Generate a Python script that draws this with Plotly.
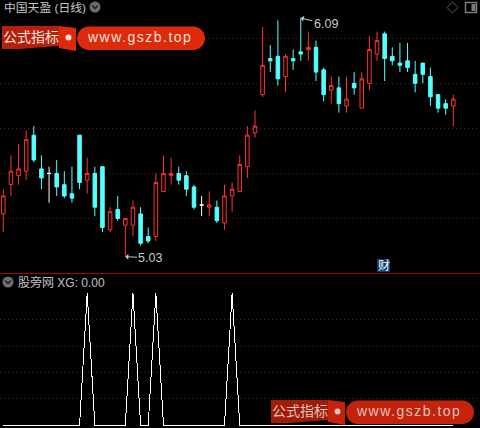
import plotly.graph_objects as go

day = list(range(60))
top = [5.30,5.41,5.42,5.55,5.57,5.42,5.40,5.40,5.35,5.31,5.57,5.40,5.40,5.43,5.23,5.24,5.20,5.25,5.22,5.12,
       5.36,5.40,5.40,5.40,5.39,5.34,5.26,5.26,5.25,5.30,5.33,5.44,5.57,5.61,5.88,5.91,5.92,5.92,5.91,5.94,
       5.96,5.96,5.86,5.79,5.78,5.73,5.80,5.82,5.95,5.99,6.02,5.92,5.89,5.90,5.84,5.89,5.83,5.75,5.71,5.73]
bottom = [5.22,5.35,5.39,5.41,5.46,5.38,5.40,5.34,5.30,5.29,5.36,5.37,5.25,5.16,5.15,5.20,5.17,5.17,5.09,5.10,
          5.12,5.32,5.39,5.37,5.33,5.25,5.26,5.25,5.19,5.18,5.30,5.32,5.43,5.58,5.75,5.90,5.82,5.83,5.90,5.93,
          5.95,5.85,5.75,5.77,5.71,5.70,5.78,5.69,5.80,5.93,5.91,5.90,5.88,5.87,5.80,5.84,5.74,5.69,5.69,5.70]
high = [5.33,5.48,5.53,5.59,5.61,5.48,5.43,5.46,5.41,5.43,5.57,5.47,5.43,5.43,5.25,5.30,5.20,5.28,5.25,5.16,
        5.40,5.48,5.47,5.43,5.41,5.35,5.30,5.32,5.28,5.35,5.36,5.48,5.61,5.68,6.05,5.97,6.08,5.93,5.95,6.09,
        6.03,5.99,5.87,5.83,5.83,5.83,5.85,5.85,6.01,6.03,6.03,5.96,5.98,5.98,5.90,5.89,5.87,5.75,5.73,5.75]
low = [5.14,5.30,5.35,5.37,5.45,5.33,5.27,5.30,5.29,5.27,5.33,5.31,5.21,5.14,5.14,5.19,5.03,5.12,5.08,5.09,
       5.10,5.32,5.35,5.35,5.30,5.24,5.21,5.21,5.18,5.15,5.23,5.32,5.38,5.56,5.74,5.85,5.79,5.76,5.86,5.90,
       5.90,5.81,5.72,5.71,5.67,5.67,5.75,5.69,5.77,5.90,5.81,5.88,5.85,5.85,5.76,5.80,5.70,5.67,5.66,5.61]
rising = [0,1,2,3,11,14,16,17,20,21,22,27,29,30,31,32,33,34,37,40,43,45,47,48,49,59]
flat = [6,26]
falling = [d for d in day if d not in rising and d not in flat]
xg = [0,0,0,0,0,0,0,0,0,0,0,1,0,0,0,0,0,1,0,0,1,0,0,0,0,0,0,0,0,0,1,0,0,0,0,0,0,0,0,0,
      0,0,0,0,0,0,0,0,0,0,0,0,0,0,0,0,0,0,0,0]
price_ticks = [5.2,5.4,5.6,5.8,6.0]
xg_ticks = [0.2,0.4,0.6,0.8]
title_text = "中国天盈 (日线)"
sub_text = "股旁网 XG: 0.00"
mark_text = "公式指标"
url_text = "www.gszb.top"

W, H = 480, 428
RED, CYAN = "#ff3232", "#54ffff"
GRID = "#7a0c0c"
CJK = "Liberation Sans, Noto Sans CJK SC"

def px(v): return v / W
def py(v): return 1 - v / H
def pick(a, idx): return [a[i] for i in idx]

fig = go.Figure()
def candles(idx, o, c, colour, fill):
    fig.add_trace(go.Candlestick(
        x=idx, open=o, high=pick(high, idx), low=pick(low, idx), close=c,
        increasing=dict(line=dict(color=colour, width=1), fillcolor=fill),
        decreasing=dict(line=dict(color=colour, width=1), fillcolor=fill),
        whiskerwidth=0, showlegend=False, hoverinfo="skip", xaxis="x", yaxis="y"))
candles(rising, pick(bottom, rising), pick(top, rising), RED, "#000000")
candles(falling, pick(top, falling), pick(bottom, falling), CYAN, CYAN)
candles(flat, pick(top, flat), pick(bottom, flat), "#ffffff", "#ffffff")
fig.add_trace(go.Scatter(x=day, y=xg, mode="lines", line=dict(color="#ffffff", width=1),
                         showlegend=False, hoverinfo="skip", xaxis="x2", yaxis="y2"))

shapes = []
annots = []
def rect(x0, y0, x1, y1, **k):
    shapes.append(dict(type="rect", xref="paper", yref="paper", x0=px(x0), x1=px(x1),
                       y0=py(y1), y1=py(y0), layer="above", **k))
def path(points, fill, line="rgba(0,0,0,0)", width=0):
    d = "M" + " L".join(f"{px(a):.5f},{py(b):.5f}" for a, b in points) + " Z"
    shapes.append(dict(type="path", xref="paper", yref="paper", path=d, fillcolor=fill,
                       line=dict(color=line, width=width), layer="above"))
def text(x, y, s, size, colour, font=CJK, anchor="left"):
    annots.append(dict(xref="paper", yref="paper", x=px(x), y=py(y), text=s, showarrow=False,
                       xanchor=anchor, yanchor="middle",
                       font=dict(family=font, size=size, color=colour)))

shapes.append(dict(type="line", xref="paper", yref="paper", x0=0, x1=1, y0=py(273.4), y1=py(273.4),
                   line=dict(color="#a01010", width=1), layer="above"))

def chevron(cx, cy):
    shapes.append(dict(type="circle", xref="paper", yref="paper", x0=px(cx-5.5), x1=px(cx+5.5),
                       y0=py(cy+5.5), y1=py(cy-5.5), fillcolor="#6e6e6e",
                       line=dict(color="#6e6e6e", width=0), layer="above"))
    d = f"M{px(cx-3):.5f},{py(cy-1.5):.5f} L{px(cx):.5f},{py(cy+1.5):.5f} L{px(cx+3):.5f},{py(cy-1.5):.5f}"
    shapes.append(dict(type="path", xref="paper", yref="paper", path=d,
                       line=dict(color="#1c1c1c", width=1.4), layer="above"))
chevron(95, 7)
chevron(8, 282)
text(1.5, 8, title_text, 11.8, "#c8c8c8")
text(16, 282, sub_text, 12, "#c0c0c0")

path([(452.5,2),(458,7.5),(452.5,13),(447,7.5)], "#000000", "#5a5a5a", 1)
rect(465.5, 2.5, 476.5, 12.5, line=dict(color="#7a7a7a", width=1.5), fillcolor="#000000")
rect(471.5, 4, 475.5, 11, line=dict(width=0), fillcolor="#7a7a7a")

rect(377, 259, 390, 272, line=dict(width=0), fillcolor="#0d3d6b")
text(383.5, 265.5, "财", 12, "#ffffff", anchor="center")

def watermark(dx, dy, base, dark, txt):
    path([(2+dx,26+dy),(59+dx,26+dy),(59+dx,46+dy),(19+dx,49+dy),(2+dx,49+dy)], dark)
    path([(59+dx,26+dy),(76+dx,28+dy),(76+dx,51+dy),(59+dx,48+dy)], base)
    x0, x1, y0, y1 = 77+dx, 205+dx, 26.5+dy, 50+dy
    r = (y1 - y0) / 2
    m = (y0 + y1) / 2
    k = 0.55 * r
    P = lambda a, b: f"{px(a):.5f},{py(b):.5f}"
    d = (f"M{P(x0+r,y0)} L{P(x1-r,y0)} "
         f"C{P(x1-r+k,y0)} {P(x1,m-k)} {P(x1,m)} "
         f"C{P(x1,m+k)} {P(x1-r+k,y1)} {P(x1-r,y1)} "
         f"L{P(x0+r,y1)} "
         f"C{P(x0+r-k,y1)} {P(x0,m+k)} {P(x0,m)} "
         f"C{P(x0,m-k)} {P(x0+r-k,y0)} {P(x0+r,y0)} Z")
    shapes.append(dict(type="path", xref="paper", yref="paper", path=d, fillcolor=base,
                       line=dict(width=0), layer="above"))
    text(0.5+dx, 37+dy, mark_text, 14, txt)
    shapes.append(dict(type="circle", xref="paper", yref="paper", x0=px(65.5+dx), x1=px(71.5+dx),
                       y0=py(40.5+dy), y1=py(34.5+dy), fillcolor=txt, line=dict(width=0), layer="above"))
    text(140+dx, 37+dy, url_text, 14, txt, font="Liberation Sans", anchor="center")

watermark(0, 0, "#dc2a0a", "#b5200c", "#f6e4dc")
watermark(269, 374, "#c4220a", "#a01c0a", "#e0c4bc")

fig.add_annotation(x=39, y=6.09, xref="x", yref="y", ax=25, ay=6, text="6.09", showarrow=True,
                   arrowhead=1, arrowwidth=1, arrowsize=1, arrowcolor="#c8c8c8", standoff=0,
                   font=dict(family="Liberation Sans", size=12.5, color="#c8c8c8"))
fig.add_annotation(x=16, y=5.03, xref="x", yref="y", ax=25, ay=1, text="5.03", showarrow=True,
                   arrowhead=1, arrowwidth=1, arrowsize=1, arrowcolor="#c8c8c8", standoff=0,
                   font=dict(family="Liberation Sans", size=12.5, color="#c8c8c8"))

xr = [-0.433, 62.5]
common = dict(showticklabels=False, ticks="", zeroline=False, showline=False, fixedrange=True)
grid = dict(showgrid=True, gridcolor=GRID, gridwidth=1, griddash="1px,3px")
fig.update_layout(
    width=W, height=H, margin=dict(l=0, r=0, t=0, b=0),
    paper_bgcolor="#000000", plot_bgcolor="#000000", boxgap=0.34,
    xaxis=dict(domain=[0,1], range=xr, showgrid=False, anchor="y", rangeslider=dict(visible=False), **common),
    yaxis=dict(domain=[1-273.5/H,1], range=[4.9556,6.1702], tickvals=price_ticks, anchor="x", **grid, **common),
    xaxis2=dict(domain=[0,1], range=xr, showgrid=False, anchor="y2", **common),
    yaxis2=dict(domain=[0,1-273.5/H], range=[-0.0204,1.149], tickvals=xg_ticks, anchor="x2", **grid, **common),
    shapes=shapes,
    annotations=list(fig.layout.annotations) + annots,
)
post = """
document.body.style.margin='0';
document.documentElement.style.overflow='hidden';
document.querySelectorAll('.js-line').forEach(function(e){e.style.shapeRendering='crispEdges';});
document.querySelectorAll('.annotation-text').forEach(function(e){
  if(e.textContent==='www.gszb.top'){e.style.letterSpacing='1.5px';}
});
"""
fig.write_html("out.html", config=dict(displayModeBar=False), post_script=post)
